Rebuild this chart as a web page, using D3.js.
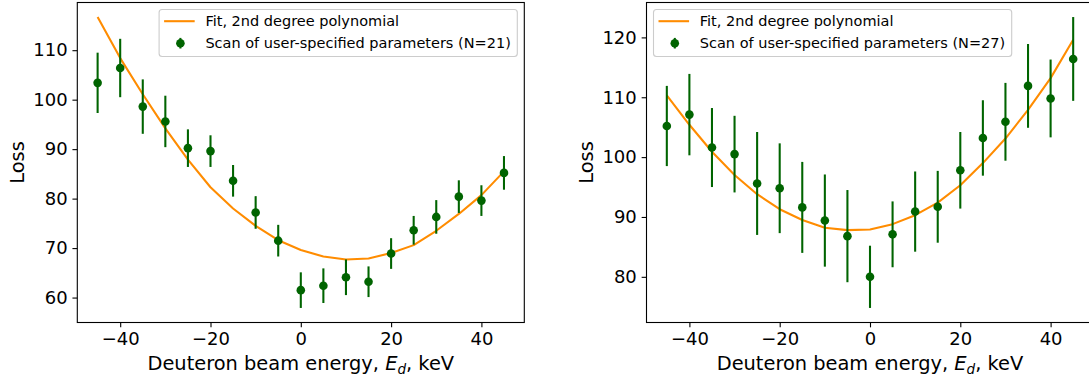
<!DOCTYPE html>
<html>
<head>
<meta charset="utf-8">
<script src="https://cdn.jsdelivr.net/npm/d3@7"></script>
<style>
  body { margin: 0; background: #fff; }
  svg { display: block; }
  text { font-family: "DejaVu Sans", sans-serif; fill: #000; }
</style>
</head>
<body>
<svg id="fig" width="1089" height="381"></svg>
<script>
// Beam energy offsets scanned (keV)
const energy = [-45, -40, -35, -30, -25, -20, -15, -10, -5, 0, 5, 10, 15, 20, 25, 30, 35, 40, 45];

// Left panel: N=21 scan
const lossA = [103.4, 106.4, 98.6, 95.6, 90.2, 89.6, 83.6, 77.2, 71.5, 61.5, 62.4, 64.1, 63.2, 68.9, 73.6, 76.3, 80.4, 79.6, 85.2];
const errA  = [6.1, 5.9, 5.5, 5.2, 3.8, 3.2, 3.2, 3.3, 3.2, 3.6, 3.5, 3.6, 3.1, 3.1, 2.9, 3.4, 3.3, 3.1, 3.4];
const fitA  = [116.7, 108.4, 101.1, 94.2, 87.9, 82.3, 78.0, 74.5, 71.6, 69.6, 68.3, 67.7, 67.9, 69.0, 70.6, 73.5, 76.9, 80.7, 85.5];

// Right panel: N=27 scan
const lossB = [105.2, 107.1, 101.6, 100.5, 95.6, 94.8, 91.6, 89.4, 86.8, 80.0, 87.1, 90.9, 91.7, 97.8, 103.2, 105.9, 111.9, 109.8, 116.4];
const errB  = [6.7, 6.8, 6.6, 6.4, 8.6, 7.5, 7.6, 7.7, 7.7, 5.2, 5.5, 6.7, 6.0, 6.4, 6.3, 6.5, 7.0, 6.5, 7.0];
const fitB  = [110.3, 105.4, 100.9, 97.0, 93.8, 91.3, 89.5, 88.2, 87.8, 87.9, 88.8, 90.3, 92.4, 95.3, 99.0, 103.1, 107.9, 113.2, 119.6];

// Tick labels
const ticksX  = [-40, -20, 0, 20, 40];
const ticksYA = [60, 70, 80, 90, 100, 110];
const ticksYB = [80, 90, 100, 110, 120];

const fitLabel = "Fit, 2nd degree polynomial";
const scanLabelA = "Scan of user-specified parameters (N=21)";
const scanLabelB = "Scan of user-specified parameters (N=27)";
const yLabel = "Loss";

const GREEN = "#006400";
const ORANGE = "#ff8c00";
const TICK_FS = 18;
const LABEL_FS = 19.4;
const LEGEND_FS = 14.5;
const TICK_LEN = 4.86;
const TICK_PAD = 4.86;

const svg = d3.select("#fig");

// Matplotlib-style autoscale: 5% margin around data extents
function padded(lo, hi) {
  const r = hi - lo;
  return [lo - 0.05 * r, hi + 0.05 * r];
}

function panel(cfg) {
  const { left, right, top, bottom, loss, err, fit, yTicks, scanLabel, legendSide, yLabelX } = cfg;

  const x = d3.scaleLinear()
    .domain(padded(d3.min(energy), d3.max(energy)))
    .range([left, right]);

  const yLo = Math.min(d3.min(loss.map((v, i) => v - err[i])), d3.min(fit));
  const yHi = Math.max(d3.max(loss.map((v, i) => v + err[i])), d3.max(fit));
  const y = d3.scaleLinear()
    .domain(padded(yLo, yHi))
    .range([bottom, top]);

  const g = svg.append("g");

  // Fit curve
  g.append("path")
    .datum(energy.map((e, i) => [e, fit[i]]))
    .attr("fill", "none")
    .attr("stroke", ORANGE)
    .attr("stroke-width", 2.08)
    .attr("stroke-linejoin", "round")
    .attr("d", d3.line().x(d => x(d[0])).y(d => y(d[1])));

  // Error bars and points
  const pts = g.append("g").selectAll("g").data(energy).join("g");
  pts.append("line")
    .attr("x1", d => x(d)).attr("x2", d => x(d))
    .attr("y1", (d, i) => y(loss[i] - err[i]))
    .attr("y2", (d, i) => y(loss[i] + err[i]))
    .attr("stroke", GREEN)
    .attr("stroke-width", 2.08);
  pts.append("circle")
    .attr("cx", d => x(d))
    .attr("cy", (d, i) => y(loss[i]))
    .attr("r", 4.3)
    .attr("fill", GREEN);

  // Axes
  const ax = g.append("g")
    .attr("transform", `translate(0,${bottom})`)
    .call(d3.axisBottom(x).tickValues(ticksX).tickSize(TICK_LEN).tickPadding(TICK_PAD).tickFormat(d3.format("d")));
  const ay = g.append("g")
    .attr("transform", `translate(${left},0)`)
    .call(d3.axisLeft(y).tickValues(yTicks).tickSize(TICK_LEN).tickPadding(TICK_PAD).tickFormat(d3.format("d")));
  [ax, ay].forEach(a => {
    a.select(".domain").remove();
    a.selectAll(".tick line").attr("stroke", "#000").attr("stroke-width", 1.1);
    a.selectAll(".tick text")
      .attr("font-family", "DejaVu Sans, sans-serif")
      .attr("font-size", TICK_FS)
      .attr("fill", "#000");
  });

  // Frame
  g.append("rect")
    .attr("x", left).attr("y", top)
    .attr("width", right - left).attr("height", bottom - top)
    .attr("fill", "none")
    .attr("stroke", "#000")
    .attr("stroke-width", 1.1);

  // X label with mathtext-like E_d
  const xl = g.append("text")
    .attr("x", (left + right) / 2)
    .attr("y", 370)
    .attr("text-anchor", "middle")
    .attr("font-size", LABEL_FS);
  xl.append("tspan").text("Deuteron beam energy, ");
  xl.append("tspan").attr("font-style", "italic").text("E");
  xl.append("tspan").attr("font-style", "italic").attr("font-size", LABEL_FS * 0.7).attr("dy", 4).text("d");
  xl.append("tspan").attr("dy", -4).text(", keV");

  // Y label
  g.append("text")
    .attr("transform", `translate(${yLabelX},${(top + bottom) / 2}) rotate(-90)`)
    .attr("text-anchor", "middle")
    .attr("font-size", LABEL_FS)
    .text(yLabel);

  // Legend
  const lg = g.append("g");
  const t1 = lg.append("text").attr("font-size", LEGEND_FS).text(fitLabel);
  const t2 = lg.append("text").attr("font-size", LEGEND_FS).text(scanLabel);
  const textW = Math.max(t1.node().getComputedTextLength(), t2.node().getComputedTextLength());
  const textOff = 46.3;
  const boxW = textOff + textW + 6.5;
  const boxH = 47;
  const bx = legendSide === "right" ? right - 7 - boxW : left + 7;
  const by = top + 7;
  lg.insert("rect", "text")
    .attr("x", bx).attr("y", by)
    .attr("width", boxW).attr("height", boxH)
    .attr("rx", 3).attr("ry", 3)
    .attr("fill", "rgba(255,255,255,0.8)")
    .attr("stroke", "#cccccc")
    .attr("stroke-width", 1.1);
  const row1 = by + 11.7, row2 = by + 33.7;
  t1.attr("x", bx + textOff).attr("y", row1).attr("dy", "0.36em");
  t2.attr("x", bx + textOff).attr("y", row2).attr("dy", "0.36em");
  lg.append("line")
    .attr("x1", bx + 5).attr("x2", bx + 35.6)
    .attr("y1", row1).attr("y2", row1)
    .attr("stroke", ORANGE).attr("stroke-width", 2.08);
  const mx = bx + 21.3;
  lg.append("line")
    .attr("x1", mx).attr("x2", mx)
    .attr("y1", row2 - 5.3).attr("y2", row2 + 5.3)
    .attr("stroke", GREEN).attr("stroke-width", 2.08);
  lg.append("circle")
    .attr("cx", mx).attr("cy", row2).attr("r", 4.3).attr("fill", GREEN);
}

panel({
  left: 77.3, right: 524.3, top: 2.5, bottom: 322.5,
  loss: lossA, err: errA, fit: fitA, yTicks: ticksYA,
  scanLabel: scanLabelA, legendSide: "right", yLabelX: 24
});

panel({
  left: 646.5, right: 1093.5, top: 2.5, bottom: 322.5,
  loss: lossB, err: errB, fit: fitB, yTicks: ticksYB,
  scanLabel: scanLabelB, legendSide: "left", yLabelX: 593
});
</script>
</body>
</html>
